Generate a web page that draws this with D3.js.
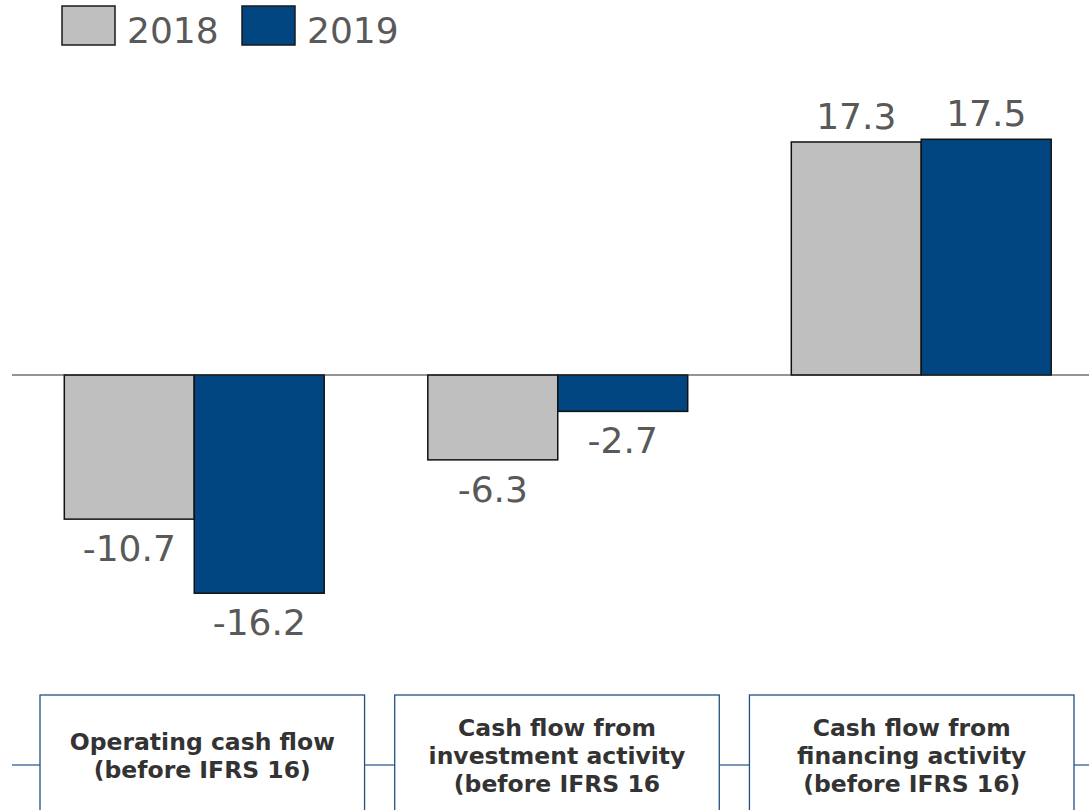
<!DOCTYPE html>
<html>
<head>
<meta charset="utf-8">
<script src="https://cdn.jsdelivr.net/npm/d3@7"></script>
<style>
  body { margin: 0; background: #fff; }
  svg { display: block; }
</style>
</head>
<body>
<div id="chart"></div>
<script>
const categories = ['operating', 'investment', 'financing'];
const boxLabels = [
    ['Operating cash flow', '(before IFRS 16)'],
    ['Cash flow from', 'investment activity', '(before IFRS 16'],
    ['Cash flow from', 'financing activity', '(before IFRS 16)']
];
const years = ['2018', '2019'];
const values2018 = [-10.7, -6.3, 17.3];
const values2019 = [-16.2, -2.7, 17.5];

const width = 1089, height = 810;
const colors = {'2018': '#bfbfbf', '2019': '#014680'};
const labelColor = '#595959';

const svg = d3.select('#chart').append('svg')
    .attr('width', width).attr('height', height);

const x = d3.scaleBand()
    .domain(categories)
    .range([12.5, 1103])
    .paddingInner(0.285)
    .paddingOuter(0.1425);
const xSub = d3.scaleBand().domain(years).range([0, x.bandwidth()]);
// 0 at y=375, 17.3 at y=142
const y = d3.scaleLinear().domain([-20, 20]).range([644.4, 105.6]);

const data = categories.map((c, i) => ({
    cat: c,
    vals: [{year: '2018', v: values2018[i]}, {year: '2019', v: values2019[i]}]
}));

// legend
const legend = svg.append('g').attr('class', 'legend');
years.forEach((yr, i) => {
    const gx = 62 + i * 180;
    legend.append('rect')
        .attr('x', gx).attr('y', 6).attr('width', 53).attr('height', 39)
        .attr('fill', colors[yr]).attr('stroke', '#1a1a1a').attr('stroke-width', 1.5);
    legend.append('text')
        .attr('x', gx + 65).attr('y', 43)
        .attr('font-family', 'DejaVu Sans, Verdana, sans-serif')
        .attr('font-size', 36).attr('fill', labelColor)
        .text(yr);
});

// bars
const groups = svg.selectAll('g.group')
    .data(data)
    .enter().append('g')
    .attr('class', 'group')
    .attr('transform', d => 'translate(' + x(d.cat) + ',0)');

groups.selectAll('rect')
    .data(d => d.vals)
    .enter().append('rect')
    .attr('x', d => xSub(d.year))
    .attr('y', d => y(Math.max(0, d.v)))
    .attr('width', xSub.bandwidth())
    .attr('height', d => Math.abs(y(d.v) - y(0)))
    .attr('fill', d => colors[d.year])
    .attr('stroke', '#111')
    .attr('stroke-width', 1.5);

groups.selectAll('text.value')
    .data(d => d.vals)
    .enter().append('text')
    .attr('class', 'value')
    .attr('x', d => xSub(d.year) + xSub.bandwidth() / 2)
    .attr('y', d => d.v >= 0 ? y(d.v) - 13 : y(d.v) + 42)
    .attr('text-anchor', 'middle')
    .attr('font-family', 'DejaVu Sans, Verdana, sans-serif')
    .attr('font-size', 36)
    .attr('fill', labelColor)
    .text(d => d.v.toFixed(1));

// zero line
svg.append('line')
    .attr('x1', 12).attr('x2', width)
    .attr('y1', y(0)).attr('y2', y(0))
    .attr('stroke', '#2a2a2a').attr('stroke-width', 1.2);

// category boxes at the bottom
const boxX = d3.scaleBand().domain(categories).range([40, 1074]).paddingInner(0.085);
const boxTop = 695, lineY = 765;

svg.append('line')
    .attr('x1', 12).attr('x2', width)
    .attr('y1', lineY).attr('y2', lineY)
    .attr('stroke', '#4f74a0').attr('stroke-width', 1.5);

const boxes = svg.selectAll('g.box')
    .data(categories)
    .enter().append('g')
    .attr('class', 'box')
    .attr('transform', d => 'translate(' + boxX(d) + ',' + boxTop + ')');

boxes.append('rect')
    .attr('width', boxX.bandwidth())
    .attr('height', 140)
    .attr('fill', '#fff')
    .attr('stroke', '#24507f')
    .attr('stroke-width', 1.3);

boxes.append('text')
    .attr('text-anchor', 'middle')
    .attr('font-family', 'DejaVu Sans, Verdana, sans-serif')
    .attr('font-weight', 'bold')
    .attr('font-size', 23.5)
    .attr('fill', '#333333')
    .each(function(d, i) {
        const lines = boxLabels[i];
        const lh = 28;
        const start = 69 - (lines.length - 1) * lh / 2;
        d3.select(this).selectAll('tspan')
            .data(lines)
            .enter().append('tspan')
            .attr('x', boxX.bandwidth() / 2)
            .attr('y', (l, j) => start + j * lh)
            .text(l => l);
    });
</script>
</body>
</html>
